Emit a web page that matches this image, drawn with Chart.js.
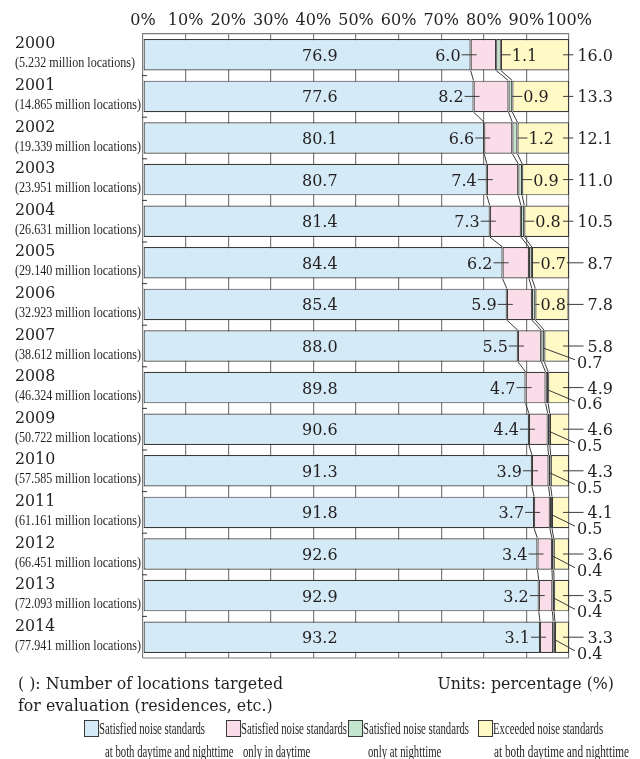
<!DOCTYPE html>
<html><head><meta charset="utf-8">
<script src="https://cdn.jsdelivr.net/npm/chart.js@4.4.1/dist/chart.umd.min.js"></script>
<style>html,body{margin:0;padding:0;background:#fff;}canvas{display:block;}</style>
</head><body>
<canvas id="c" width="640" height="759"></canvas>
<script>
// ---- data ----
const categories = ['2000','2001','2002','2003','2004','2005','2006','2007','2008','2009','2010','2011','2012','2013','2014'];
const locations = ['5.232','14.865','19.339','23.951','26.631','29.140','32.923','38.612','46.324','50.722','57.585','61.161','66.451','72.093','77.941'];
const bothSatisfied = [76.9,77.6,80.1,80.7,81.4,84.4,85.4,88.0,89.8,90.6,91.3,91.8,92.6,92.9,93.2];
const dayOnly       = [6.0,8.2,6.6,7.4,7.3,6.2,5.9,5.5,4.7,4.4,3.9,3.7,3.4,3.2,3.1];
const nightOnly     = [1.1,0.9,1.2,0.9,0.8,0.7,0.8,0.7,0.6,0.5,0.5,0.5,0.4,0.4,0.4];
const exceeded      = [16.0,13.3,12.1,11.0,10.5,8.7,7.8,5.8,4.9,4.6,4.3,4.1,3.6,3.5,3.3];
const seriesLine1 = ['Satisfied noise standards','Satisfied noise standards','Satisfied noise standards','Exceeded noise standards'];
const seriesLine2 = ['at both daytime and nighttime','only in daytime','only at nighttime','at both daytime and nighttime'];
const noteLines = ['( ): Number of locations targeted','for evaluation (residences, etc.)'];
const unitsNote = 'Units: percentage (%)';

// ---- style ----
const COLORS = ['#d4eaf7','#fbdde9','#c3e4cd','#fff9c6'];
const TEXT = '#231f20', LINE = '#3a3a3a', GRID = '#7d7d7d';
const SERIF = '"DejaVu Serif", serif';
const NARROW = '"Liberation Serif", serif';

function drawText(ctx, s, x, y, font, align, sx) {
  ctx.save();
  ctx.font = font; ctx.fillStyle = TEXT; ctx.textBaseline = 'alphabetic';
  ctx.textAlign = align || 'left';
  ctx.translate(x, y);
  if (sx && sx !== 1) ctx.scale(sx, 1);
  ctx.fillText(s, 0, 0);
  ctx.restore();
}
function textW(ctx, s, font) { ctx.save(); ctx.font = font; const w = ctx.measureText(s).width; ctx.restore(); return w; }
function seg(ctx, x1, y1, x2, y2) { ctx.beginPath(); ctx.moveTo(x1, y1); ctx.lineTo(x2, y2); ctx.stroke(); }
const fmt = v => v.toFixed(1);

const overlay = {
  id: 'overlay',
  beforeDatasetsDraw(chart) {
    const {ctx, chartArea: ca} = chart;
    ctx.save();
    ctx.strokeStyle = GRID; ctx.lineWidth = 1.2;
    seg(ctx, ca.left, ca.bottom, ca.right, ca.bottom);
    ctx.restore();
  },
  afterDatasetsDraw(chart) {
    const {ctx, chartArea: ca, scales: {x: xs}} = chart;
    const meta = chart.getDatasetMeta(0);
    const n = categories.length;
    const geom = i => { const el = meta.data[i]; const h = el.height; return {yc: el.y, top: el.y - h / 2, bot: el.y + h / 2}; };
    const cums = i => { const a = bothSatisfied[i], b = a + dayOnly[i], c = b + nightOnly[i]; return [a, b, c]; };
    ctx.save();
    ctx.strokeStyle = LINE; ctx.lineWidth = 1;
    for (let i = 0; i < n - 1; i++) {
      const g1 = geom(i), g2 = geom(i + 1), c1 = cums(i), c2 = cums(i + 1);
      for (let k = 0; k < 3; k++) seg(ctx, xs.getPixelForValue(c1[k]), g1.bot, xs.getPixelForValue(c2[k]), g2.top);
    }
    for (let i = 0; i < n - 1; i++) {
      const y = (geom(i).bot + geom(i + 1).top) / 2;
      seg(ctx, ca.left - 1, y, ca.left + 4, y);
    }
    const VF = '16px ' + SERIF;
    const right = ca.right;
    for (let i = 0; i < n; i++) {
      const {yc, bot} = geom(i);
      const [a, b, c] = cums(i);
      const base = yc + 6;
      drawText(ctx, fmt(bothSatisfied[i]), xs.getPixelForValue(41.5), base, VF, 'center');
      const bx = xs.getPixelForValue(a);
      seg(ctx, bx - 9, yc, bx + 6, yc);
      drawText(ctx, fmt(dayOnly[i]), bx - 10, base, VF, 'right');
      const gR = xs.getPixelForValue(c);
      let yStart = right - 6;
      const gs = fmt(nightOnly[i]);
      if (exceeded[i] >= 7) {
        const w = textW(ctx, gs, VF);
        const tl = Math.min(gR + 11, right - w - 3);
        seg(ctx, gR, yc, tl - 1, yc);
        drawText(ctx, gs, tl, base, VF, 'left');
        yStart = Math.max(yStart, tl + w + 1);
      } else {
        seg(ctx, gR - 1, yc + 2, right + 6, bot - 2);
        drawText(ctx, gs, right + 8, bot + 6, VF, 'left');
      }
      const ys = fmt(exceeded[i]);
      const w2 = textW(ctx, ys, VF);
      const tr = right + 44;
      seg(ctx, yStart, yc, tr - w2 - 4, yc);
      drawText(ctx, ys, tr, base, VF, 'right');
    }
    ctx.restore();
  },
  afterDraw(chart) {
    const {ctx} = chart;
    const meta = chart.getDatasetMeta(0);
    const PF = '14.5px ' + NARROW;
    const sxP = 120 / textW(ctx, '(5.232 million locations)', PF);
    for (let i = 0; i < categories.length; i++) {
      const yc = meta.data[i].y;
      drawText(ctx, categories[i], 15, yc - 6.5, '17px ' + SERIF, 'left', 0.93);
      drawText(ctx, '(' + locations[i] + ' million locations)', 15, yc + 12.5, PF, 'left', sxP);
    }
    const NF = '16.5px ' + SERIF;
    const sxN = 265 / textW(ctx, noteLines[0], NF);
    drawText(ctx, noteLines[0], 18, 689, NF, 'left', sxN);
    drawText(ctx, noteLines[1], 18, 711, NF, 'left', sxN);
    drawText(ctx, unitsNote, 614, 689, NF, 'right', sxN);
    // legend
    const LF = '16.5px ' + NARROW;
    const sxL = 106 / textW(ctx, seriesLine1[0], LF);
    const boxX = [84, 226, 348, 478];
    const line2X = [105, 243, 368, 494];
    ctx.save();
    for (let k = 0; k < 4; k++) {
      ctx.fillStyle = COLORS[k];
      ctx.fillRect(boxX[k] + 0.5, 720.5, 14, 16);
      ctx.strokeStyle = LINE; ctx.lineWidth = 1;
      ctx.strokeRect(boxX[k] + 0.5, 720.5, 14, 16);
      drawText(ctx, seriesLine1[k], boxX[k] + 15, 733.5, LF, 'left', sxL);
      const sx2 = k === 3 ? 135 / textW(ctx, seriesLine2[k], LF) : sxL;
      drawText(ctx, seriesLine2[k], line2X[k], 756.5, LF, 'left', sx2);
    }
    ctx.restore();
  }
};

const mk = (data, k) => ({
  data, backgroundColor: COLORS[k], borderColor: LINE, borderWidth: 1.2, borderSkipped: false,
  barPercentage: 0.757, categoryPercentage: 1.0
});

new Chart(document.getElementById('c'), {
  type: 'bar',
  data: {
    labels: categories,
    datasets: [mk(bothSatisfied, 0), mk(dayOnly, 1), mk(nightOnly, 2), mk(exceeded, 3)]
  },
  options: {
    indexAxis: 'y',
    responsive: false,
    animation: false,
    events: [],
    layout: {padding: {left: 143, right: 71, top: 0, bottom: 101}},
    plugins: {legend: {display: false}, tooltip: {enabled: false}},
    scales: {
      x: {
        position: 'top', stacked: true, min: 0, max: 100,
        afterFit: s => { s.height = 34; },
        ticks: {stepSize: 10, padding: 4, color: TEXT, font: {family: SERIF, size: 16}, callback: v => v + '%', maxRotation: 0, autoSkip: false},
        grid: {color: GRID, lineWidth: 1.2, drawTicks: false},
        border: {display: true, color: GRID, width: 1.2}
      },
      y: {stacked: true, display: false}
    }
  },
  plugins: [overlay]
});
</script>
</body></html>
